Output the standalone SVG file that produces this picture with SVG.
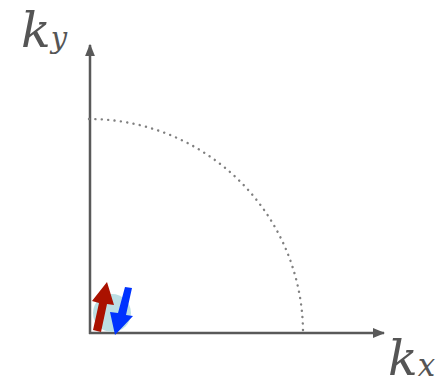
<svg xmlns="http://www.w3.org/2000/svg" width="445" height="388" viewBox="0 0 445 388">
<defs>
<style>
.axis{stroke:#595959;stroke-width:2.5;fill:none}
.lbl{font-family:"DejaVu Serif",serif;font-style:italic;fill:#555}
</style>
<marker id="ah" viewBox="0 0 10 10" refX="9" refY="5" markerWidth="5" markerHeight="5" orient="auto" markerUnits="strokeWidth">
<path d="M0,1 L10,5 L0,9 z" fill="#595959"/>
</marker>
</defs>
<rect width="445" height="388" fill="#fff"/>
<g id="connectors">
<line class="axis" x1="90" y1="334" x2="90" y2="45" marker-end="url(#ah)"/>
<line class="axis" x1="89" y1="333" x2="384" y2="333" marker-end="url(#ah)"/>
</g>
<g id="fermi-surface">
<path d="M89,119 A214,214 0 0 1 303,333" fill="none" stroke="#808080" stroke-width="2.4" stroke-dasharray="0.1 6.3" stroke-linecap="round"/>
</g>
<g id="spin-pair">
<circle cx="112" cy="313" r="19" fill="#bcdfe4"/>
<polygon points="93,330 99,303 92,301 107,282 114,305 107,304 101,332" fill="#aa1100"/>
<polygon points="125,287 132,288 126,315 133,316 115,335 110,312 118,313" fill="#0033ff"/>
</g>
<g id="ky-label">
<text class="lbl" x="21" y="47" font-size="49">k<tspan font-size="29" dy="1">y</tspan></text>
</g>
<g id="kx-label">
<text class="lbl" x="388" y="375" font-size="49">k<tspan font-size="31" dy="1">x</tspan></text>
</g>
</svg>
